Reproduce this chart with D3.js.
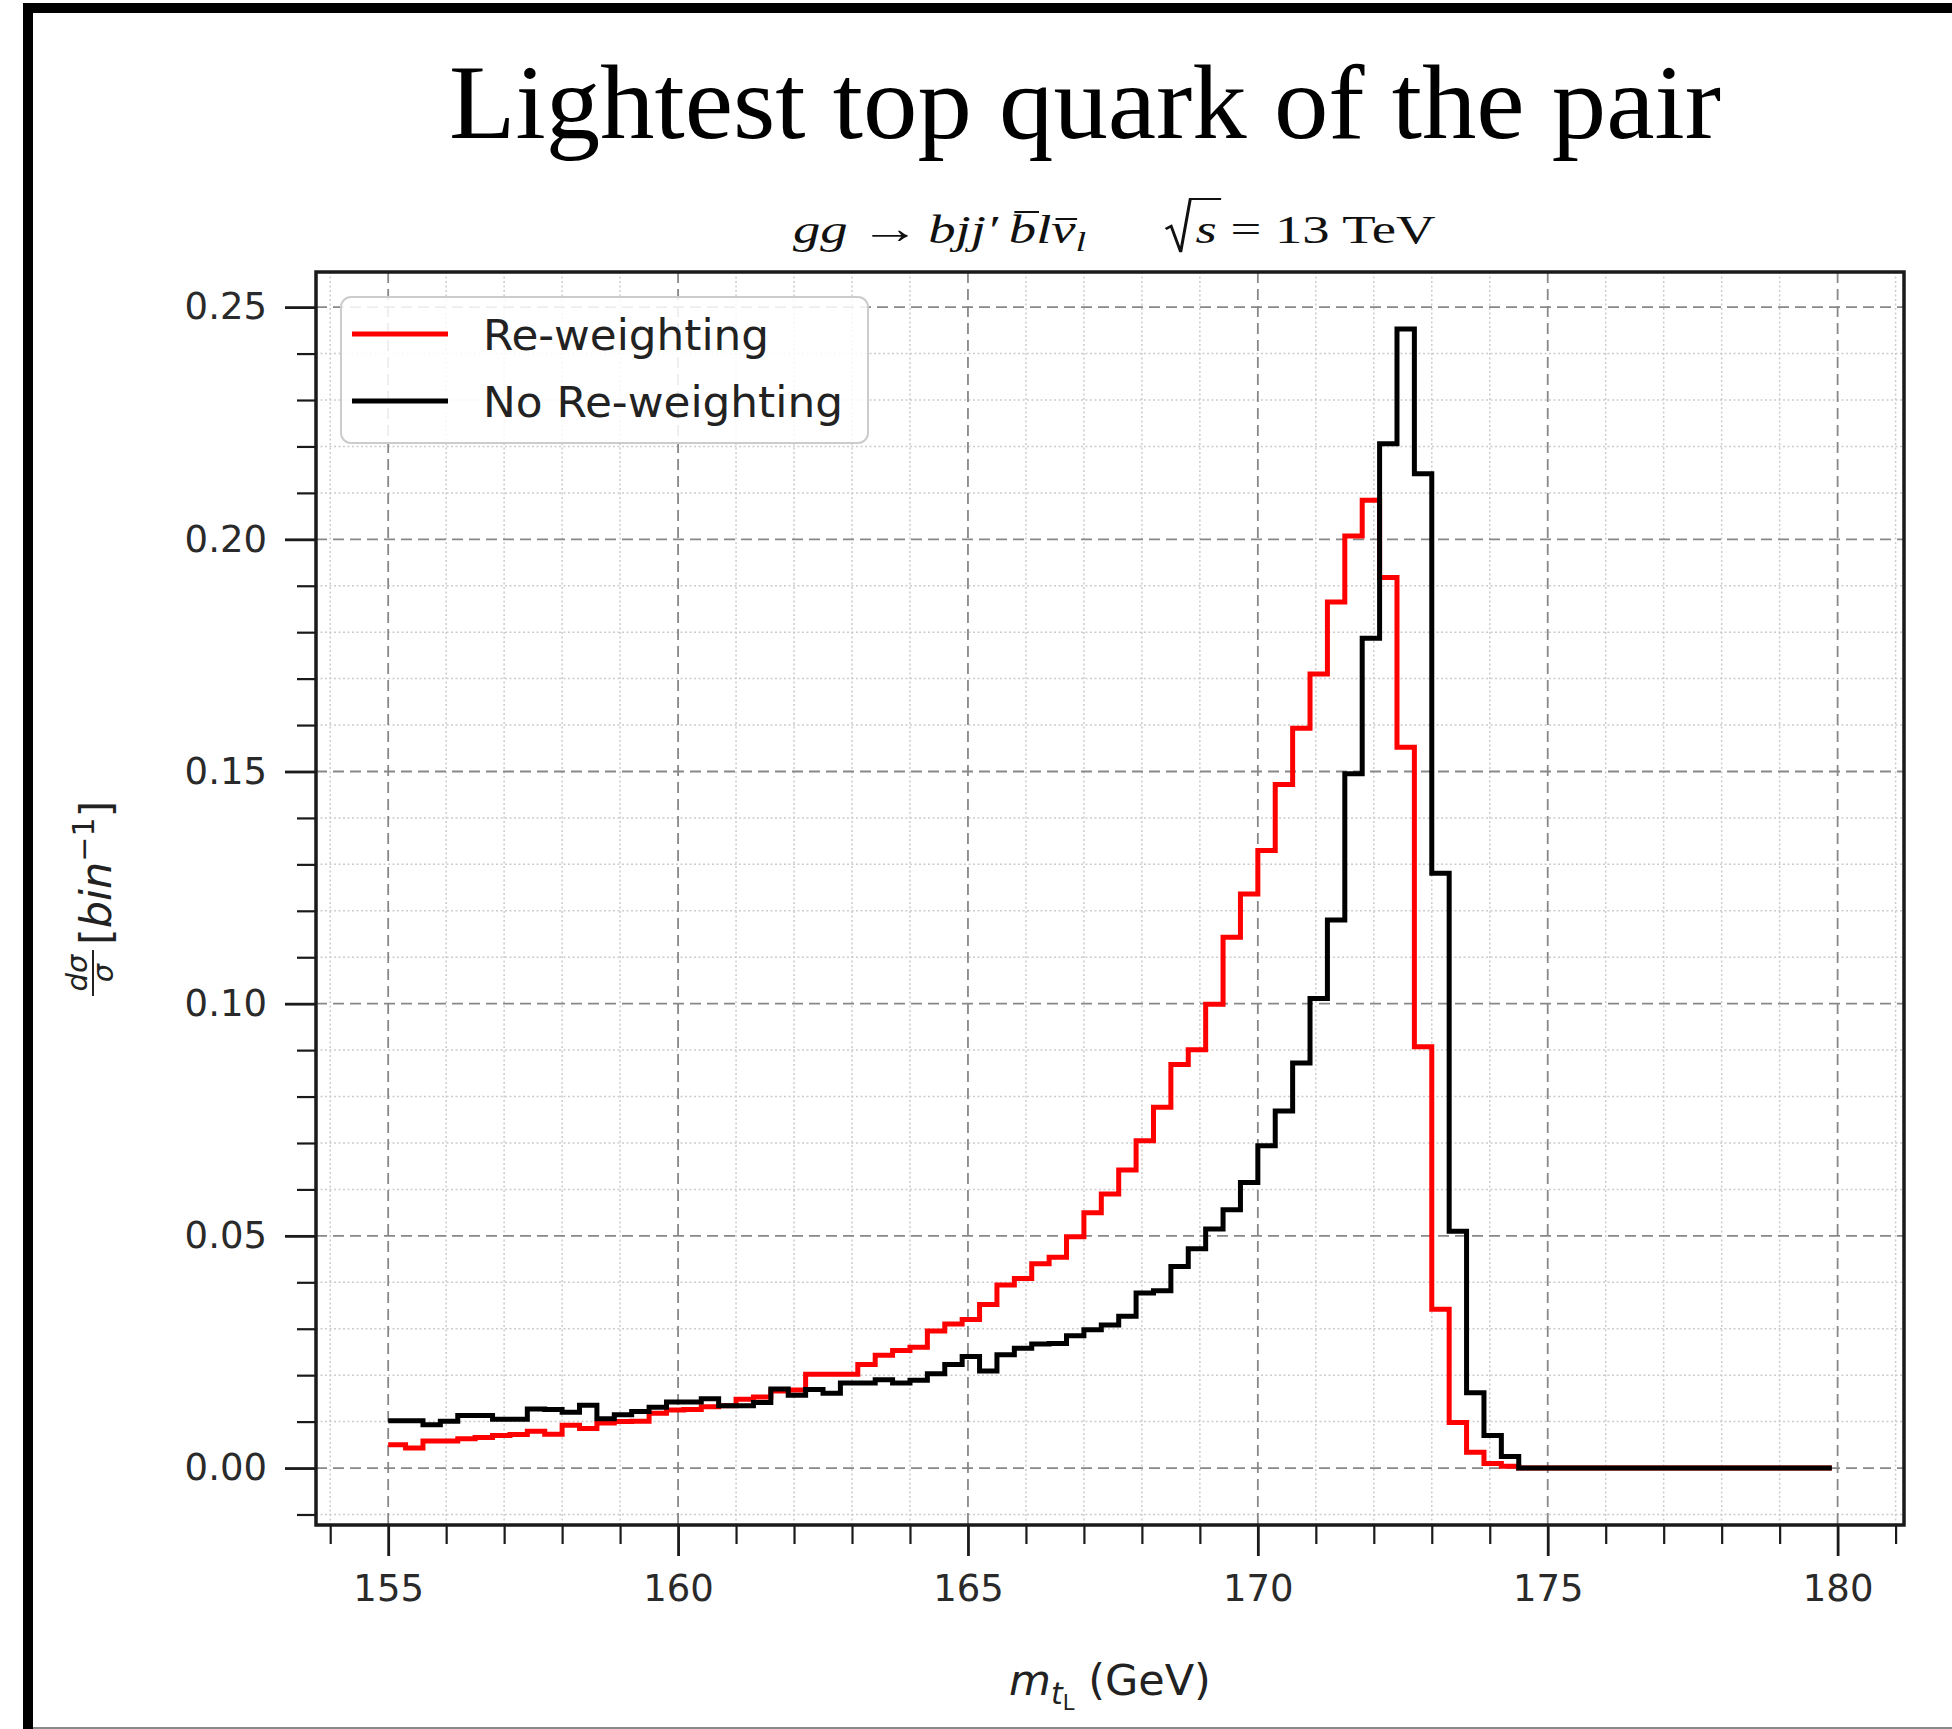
<!DOCTYPE html>
<html>
<head>
<meta charset="utf-8">
<script src="https://cdn.jsdelivr.net/npm/d3@7"></script>
<style>
  html, body { margin: 0; padding: 0; background: #fff; }
  svg { display: block; }
</style>
</head>
<body>
<svg id="chart" width="1952" height="1729"></svg>
<script>
// Histogram binning: 0.3 GeV bins starting at 155 GeV
const binStart = 155;
const binWidth = 0.3;
const binCount = 83;

// Normalised distribution with re-weighting (red)
const reweighted = [
  0.0050,0.0043,0.0058,0.0058,0.0063,0.0066,0.0070,0.0072,0.0079,0.0073,
  0.0092,0.0085,0.0097,0.0100,0.0101,0.0118,0.0125,0.0126,0.0132,0.0134,
  0.0148,0.0153,0.0166,0.0168,0.0202,0.0202,0.0202,0.0223,0.0243,0.0253,
  0.0260,0.0295,0.0310,0.0320,0.0352,0.0394,0.0408,0.0440,0.0454,0.0498,
  0.0550,0.0590,0.0642,0.0705,0.0777,0.0869,0.0901,0.0999,0.1143,0.1236,
  0.1330,0.1472,0.1593,0.1710,0.1865,0.2007,0.2084,0.1918,0.1552,0.0907,
  0.0342,0.0098,0.0034,0.0010,0.0004,0,0,0,0,0,
  0,0,0,0,0,0,0,0,0,0,
  0,0,0
];

// Normalised distribution without re-weighting (black)
const nominal = [
  0.0102,0.0102,0.0093,0.0101,0.0113,0.0113,0.0105,0.0105,0.0127,0.0126,
  0.0120,0.0135,0.0106,0.0115,0.0122,0.0131,0.0142,0.0142,0.0149,0.0134,
  0.0134,0.0141,0.0170,0.0157,0.0169,0.0161,0.0183,0.0183,0.0190,0.0183,
  0.0189,0.0203,0.0223,0.0240,0.0209,0.0244,0.0258,0.0267,0.0268,0.0285,
  0.0298,0.0308,0.0327,0.0377,0.0382,0.0434,0.0472,0.0515,0.0556,0.0615,
  0.0694,0.0769,0.0872,0.1011,0.1180,0.1495,0.1787,0.2206,0.2453,0.2141,
  0.1281,0.0510,0.0162,0.0070,0.0025,0,0,0,0,0,
  0,0,0,0,0,0,0,0,0,0,
  0,0,0
];

const xTicks = [155, 160, 165, 170, 175, 180];
const yTicks = [0.00, 0.05, 0.10, 0.15, 0.20, 0.25];
const seriesNames = ["Re-weighting", "No Re-weighting"];
const seriesColors = ["#ff0000", "#000000"];

const svg = d3.select("#chart");
const plot = { left: 316, right: 1904, top: 272, bottom: 1525 };

// Axis limits with 5% margins around the data
const edges = d3.range(binCount + 1).map(i => binStart + i * binWidth);
const xMin = edges[0], xMax = edges[edges.length - 1];
const xPad = 0.05 * (xMax - xMin);
const yMax = d3.max([...reweighted, ...nominal]);
const yPad = 0.05 * yMax;

const x = d3.scaleLinear().domain([xMin - xPad, xMax + xPad]).range([plot.left, plot.right]);
const y = d3.scaleLinear().domain([-yPad, yMax + yPad]).range([plot.bottom, plot.top]);

const xMinor = d3.range(Math.ceil(x.domain()[0]), Math.floor(x.domain()[1]) + 1).filter(v => v % 5 !== 0);
const yMinor = d3.range(-1, 26).map(i => i / 100).filter(v => v >= y.domain()[0] && v <= y.domain()[1] && Math.round(v * 100) % 5 !== 0);

// Page border
svg.append("rect").attr("x", 0).attr("y", 0).attr("width", 1952).attr("height", 1729).attr("fill", "#fff");
svg.append("rect").attr("x", 23).attr("y", 3).attr("width", 1929).attr("height", 10).attr("fill", "#000");
svg.append("rect").attr("x", 23).attr("y", 3).attr("width", 10).attr("height", 1726).attr("fill", "#000");
svg.append("line").attr("x1", 33).attr("x2", 1952).attr("y1", 1728).attr("y2", 1728).attr("stroke", "#8a8a8a").attr("stroke-width", 2);

// Title
svg.append("text")
  .attr("x", 1085).attr("y", 138)
  .attr("text-anchor", "middle")
  .attr("font-family", "Liberation Serif")
  .attr("font-size", 106)
  .attr("textLength", 1272)
  .attr("lengthAdjust", "spacingAndGlyphs")
  .attr("fill", "#000")
  .text("Lightest top quark of the pair");

// Subtitle: gg → bjj′ b̄lν̄_l   √s = 13 TeV
const subBase = 243;
const subG = svg.append("g");
const subInner = subG.append("g");
const subText = subInner.append("text")
  .attr("x", 0)
  .attr("y", subBase)
  .attr("font-family", "Liberation Serif")
  .attr("font-size", 40)
  .attr("fill", "#111")
  .style("white-space", "pre");
const parts = [
  { t: "gg", it: true },
  { t: "\u2192", it: false, size: 44, dx: 9 },
  { t: "bjj\u2032", it: true, dx: 6 },
  { t: "b", it: true, dx: 8, bar: "high" },
  { t: "l", it: true },
  { t: "\u03bd", it: true, bar: "low" },
  { t: "l", it: true, sub: true },
  { t: "s", it: true, dx: 80, root: true },
  { t: " = 13 TeV", it: false }
];
let charIndex = 0;
const marks = [];
let shifted = false;
parts.forEach(p => {
  const ts = subText.append("tspan").text(p.t);
  if (p.it) ts.attr("font-style", "italic");
  if (p.size) ts.attr("font-size", p.size);
  let dy = 0;
  if (p.sub) { ts.attr("font-size", 28); dy += 8; shifted = true; }
  else if (shifted) { dy -= 8; shifted = false; }
  if (dy) ts.attr("dy", dy);
  if (p.dx) ts.attr("dx", p.dx);
  if (p.bar || p.root) marks.push({ idx: charIndex, len: p.t.length, kind: p.bar || "root" });
  charIndex += p.t.length;
});
const subNode = subText.node();
marks.forEach(m => {
  const a = subNode.getExtentOfChar(m.idx);
  const b = subNode.getExtentOfChar(m.idx + m.len - 1);
  const x0 = a.x, x1 = b.x + b.width;
  if (m.kind === "high") {
    subInner.append("line").attr("x1", x0 + 4).attr("x2", x1 + 2).attr("y1", subBase - 31).attr("y2", subBase - 31)
      .attr("stroke", "#111").attr("stroke-width", 2);
  } else if (m.kind === "low") {
    subInner.append("line").attr("x1", x0 + 3).attr("x2", x1 + 1).attr("y1", subBase - 24).attr("y2", subBase - 24)
      .attr("stroke", "#111").attr("stroke-width", 2);
  } else {
    const top = subBase - 44;
    subInner.append("path")
      .attr("d", `M${x0 - 22},${subBase - 14} L${x0 - 18},${subBase - 17} L${x0 - 11},${subBase + 9} L${x0 - 4},${top} L${x1 + 3},${top}`)
      .attr("fill", "none").attr("stroke", "#111").attr("stroke-width", 2.2).attr("stroke-linejoin", "miter");
  }
});
// Fit the subtitle to its horizontal extent above the axes
const sbb = subInner.node().getBBox();
const subLeft = 793, subRight = 1436;
const sx = (subRight - subLeft) / sbb.width;
subG.attr("transform", `translate(${subLeft},0) scale(${sx},1) translate(${-sbb.x},0)`);

// Grid: minor dotted, major dashed
const grid = svg.append("g");
grid.selectAll(".gxm").data(xMinor).join("line")
  .attr("x1", d => x(d)).attr("x2", d => x(d)).attr("y1", plot.top).attr("y2", plot.bottom)
  .attr("stroke", "#cccccc").attr("stroke-width", 1.5).attr("stroke-dasharray", "2,2.5");
grid.selectAll(".gym").data(yMinor).join("line")
  .attr("x1", plot.left).attr("x2", plot.right).attr("y1", d => y(d)).attr("y2", d => y(d))
  .attr("stroke", "#cccccc").attr("stroke-width", 1.5).attr("stroke-dasharray", "2,2.5");
grid.selectAll(".gxM").data(xTicks).join("line")
  .attr("x1", d => x(d)).attr("x2", d => x(d)).attr("y1", plot.top).attr("y2", plot.bottom)
  .attr("stroke", "#888888").attr("stroke-width", 1.8).attr("stroke-dasharray", "11,6");
grid.selectAll(".gyM").data(yTicks).join("line")
  .attr("x1", plot.left).attr("x2", plot.right).attr("y1", d => y(d)).attr("y2", d => y(d))
  .attr("stroke", "#888888").attr("stroke-width", 1.8).attr("stroke-dasharray", "11,6");

// Histogram step lines
const stepLine = d3.line().x(d => x(d[0])).y(d => y(d[1])).curve(d3.curveStepAfter);
[reweighted, nominal].forEach((vals, i) => {
  const pts = vals.map((v, k) => [edges[k], v]);
  pts.push([edges[binCount], 0]);
  svg.append("path").datum(pts)
    .attr("d", stepLine)
    .attr("fill", "none")
    .attr("stroke", seriesColors[i])
    .attr("stroke-width", 5)
    .attr("stroke-linejoin", "miter");
});

// Axes
const tickFont = "DejaVu Sans";
const xAxis = svg.append("g").attr("transform", `translate(0,${plot.bottom})`)
  .call(d3.axisBottom(x).tickValues(xTicks).tickSize(31).tickPadding(19).tickFormat(d3.format("d")));
const xAxisMinor = svg.append("g").attr("transform", `translate(0,${plot.bottom})`)
  .call(d3.axisBottom(x).tickValues(xMinor).tickSize(19).tickFormat(""));
const yAxis = svg.append("g").attr("transform", `translate(${plot.left},0)`)
  .call(d3.axisLeft(y).tickValues(yTicks).tickSize(31).tickPadding(18).tickFormat(d3.format(".2f")));
const yAxisMinor = svg.append("g").attr("transform", `translate(${plot.left},0)`)
  .call(d3.axisLeft(y).tickValues(yMinor).tickSize(19).tickFormat(""));
[xAxis, xAxisMinor, yAxis, yAxisMinor].forEach(g => {
  g.select(".domain").remove();
  g.selectAll(".tick line").attr("stroke", "#1a1a1a");
  g.selectAll(".tick text").attr("font-family", tickFont).attr("font-size", 37).attr("fill", "#2a2a2a");
});
[xAxis, yAxis].forEach(g => g.selectAll(".tick line").attr("stroke-width", 2.8));
[xAxisMinor, yAxisMinor].forEach(g => g.selectAll(".tick line").attr("stroke-width", 2.2));

// Plot frame
svg.append("rect")
  .attr("x", plot.left).attr("y", plot.top)
  .attr("width", plot.right - plot.left).attr("height", plot.bottom - plot.top)
  .attr("fill", "none").attr("stroke", "#1a1a1a").attr("stroke-width", 3.5);

// Legend
const leg = svg.append("g");
leg.append("rect").attr("x", 341).attr("y", 297).attr("width", 527).attr("height", 146).attr("rx", 10)
  .attr("fill", "#fff").attr("fill-opacity", 0.85).attr("stroke", "#cccccc").attr("stroke-width", 2);
seriesNames.forEach((name, i) => {
  const cy = 334 + i * 67;
  leg.append("line").attr("x1", 352).attr("x2", 448).attr("y1", cy).attr("y2", cy)
    .attr("stroke", seriesColors[i]).attr("stroke-width", 5);
  leg.append("text").attr("x", 483).attr("y", cy + 16)
    .attr("font-family", tickFont).attr("font-size", 43).attr("fill", "#222")
    .attr("textLength", i === 0 ? 286 : 360).attr("lengthAdjust", "spacingAndGlyphs")
    .text(name);
});

// x-axis label: m_{t_L} (GeV)
const xl = svg.append("text").attr("x", 1110).attr("y", 1695).attr("text-anchor", "middle")
  .attr("font-family", tickFont).attr("font-size", 43).attr("fill", "#222").style("white-space", "pre");
xl.append("tspan").attr("font-style", "italic").text("m");
xl.append("tspan").attr("font-style", "italic").attr("font-size", 30).attr("dy", 9).text("t");
xl.append("tspan").attr("font-size", 21).attr("dy", 6).text("L");
xl.append("tspan").attr("dy", -15).text(" (GeV)");

// y-axis label: dσ/σ [bin^{-1}]
const yl = svg.append("g").attr("transform", "translate(111,900) rotate(-90)")
  .attr("font-family", tickFont).attr("fill", "#222");
yl.append("text").attr("x", -73).attr("y", -24).attr("text-anchor", "middle")
  .attr("font-size", 29).attr("font-style", "italic").text("d\u03c3");
yl.append("line").attr("x1", -96).attr("x2", -50).attr("y1", -18).attr("y2", -18)
  .attr("stroke", "#222").attr("stroke-width", 2);
yl.append("text").attr("x", -73).attr("y", 2).attr("text-anchor", "middle")
  .attr("font-size", 29).attr("font-style", "italic").text("\u03c3");
const ylt = yl.append("text").attr("x", -45).attr("y", 0).attr("font-size", 43);
ylt.append("tspan").text("[");
ylt.append("tspan").attr("font-style", "italic").text("bin");
ylt.append("tspan").attr("font-size", 30).attr("dy", -17).text("\u22121");
ylt.append("tspan").attr("dy", 17).text("]");
</script>
</body>
</html>
